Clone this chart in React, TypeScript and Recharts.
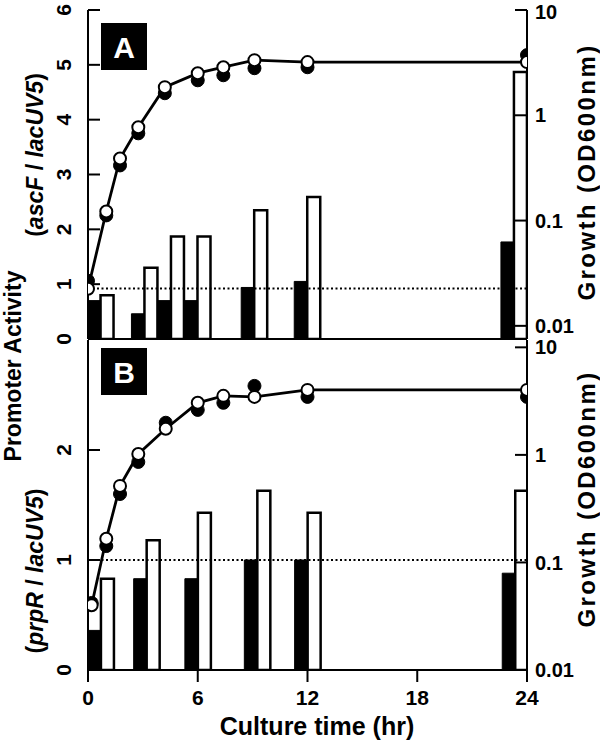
import React from 'react';
import { ComposedChart, Bar, Line, XAxis, YAxis, ReferenceLine } from 'recharts';

// Panel A (ascF / lacUV5)
const barTimesA = [0.7, 3.1, 4.55, 6.0, 9.1, 12.0, 23.3];
const blackA = [0.7, 0.46, 0.7, 0.7, 0.94, 1.05, 1.77];
const whiteA = [0.8, 1.3, 1.87, 1.87, 2.35, 2.59, 4.87];
const growthTimesA = [0, 1, 1.75, 2.75, 4.2, 6, 7.4, 9.1, 12, 24];
const openA = [0.0225, 0.122, 0.389, 0.769, 1.85, 2.51, 2.86, 3.34, 3.2, 3.2];
const filledA = [0.0268, 0.112, 0.334, 0.674, 1.62, 2.15, 2.4, 2.8, 2.86, 3.73];

// Panel B (prpR / lacUV5)
const barTimesB = [0.7, 3.2, 6.0, 9.25, 12.0, 23.35];
const blackB = [0.36, 0.83, 0.83, 1.0, 1.0, 0.88];
const whiteB = [0.83, 1.18, 1.43, 1.63, 1.43, 1.63];
const growthTimesB = [0.2, 1, 1.75, 2.75, 4.25, 6, 7.4, 9.1, 12, 24];
const openB = [0.04, 0.166, 0.515, 1.02, 1.75, 3.05, 3.54, 3.46, 4.02, 4.02];
const filledB = [0.042, 0.142, 0.433, 0.86, 1.99, 2.62, 3.05, 4.38, 3.46, 3.46];

const timeTicks = [0, 6, 12, 18, 24];
const odTicks = [0.01, 0.1, 1, 10];
const activityTicksA = [0, 1, 2, 3, 4, 5, 6];
const activityTicksB = [0, 1, 2];

const barsA = barTimesA.map((t, i) => ({ t, black: blackA[i], white: whiteA[i] }));
const barsB = barTimesB.map((t, i) => ({ t, black: blackB[i], white: whiteB[i] }));
const growthA = growthTimesA.map((t, i) => ({ t, open: openA[i], filled: filledA[i] }));
const growthB = growthTimesB.map((t, i) => ({ t, open: openB[i], filled: filledB[i] }));

const FONT = '"Liberation Sans", Arial, Helvetica, sans-serif';
const axisLine = { stroke: '#000', strokeWidth: 2 };

// left-axis numbers are printed sideways in the figure
const renderSideTick = (props: any) => {
  const { x, y, payload } = props;
  return (
    <g transform={`translate(${x},${y})`}>
      <text
        transform="rotate(-90)"
        textAnchor="middle"
        dy="0.36em"
        fontSize={21}
        fontWeight="bold"
        fontFamily={FONT}
        fill="#000"
      >
        {payload.value}
      </text>
    </g>
  );
};

const Panel = ({ bars, growth, actDomain, actTicks, odDomain, refY, top, height, showTimeLabels }: any) => (
  <div style={{ position: 'absolute', left: 0, top }}>
    <ComposedChart
      width={600}
      height={height}
      data={bars}
      barGap={0}
      margin={{ top: 10, right: 13, left: 47, bottom: showTimeLabels ? 0 : 6 }}
      style={{ fontFamily: FONT }}
    >
      <XAxis
        dataKey="t"
        type="number"
        domain={[0, 24]}
        ticks={timeTicks}
        allowDataOverflow
        height={showTimeLabels ? 70 : 15}
        tickSize={12}
        tickMargin={8}
        axisLine={axisLine}
        tickLine={axisLine}
        tick={showTimeLabels ? { fill: '#000', fontSize: 21, fontWeight: 'bold' } : false}
      />
      <XAxis xAxisId="g" dataKey="t" type="number" domain={[0, 24]} allowDataOverflow hide />
      {!showTimeLabels && (
        <XAxis
          xAxisId="top"
          orientation="top"
          dataKey="t"
          type="number"
          domain={[0, 24]}
          height={0}
          tick={false}
          tickLine={false}
          axisLine={axisLine}
        />
      )}
      <YAxis
        yAxisId="act"
        domain={actDomain}
        ticks={actTicks}
        allowDataOverflow
        width={41}
        tickSize={-12}
        tickMargin={37}
        axisLine={axisLine}
        tickLine={axisLine}
        tick={renderSideTick}
      />
      <YAxis
        yAxisId="gr"
        orientation="right"
        scale="log"
        domain={odDomain}
        ticks={odTicks}
        allowDataOverflow
        width={60}
        tickSize={-12}
        tickMargin={20}
        axisLine={axisLine}
        tickLine={axisLine}
        tick={{ fill: '#000', fontSize: 20, fontWeight: 'bold' }}
      />
      <ReferenceLine yAxisId="act" y={refY} stroke="#000" strokeWidth={2} strokeDasharray="2 2.5" />
      <Bar yAxisId="act" dataKey="black" barSize={13} fill="#000" stroke="#000" strokeWidth={1} isAnimationActive={false} />
      <Bar yAxisId="act" dataKey="white" barSize={13} fill="#fff" stroke="#000" strokeWidth={2.5} isAnimationActive={false} />
      <Line
        xAxisId="g"
        yAxisId="gr"
        data={growth}
        dataKey="filled"
        stroke="none"
        dot={{ r: 6.5, fill: '#000', stroke: '#000', strokeWidth: 1 }}
        activeDot={false}
        isAnimationActive={false}
      />
      <Line
        xAxisId="g"
        yAxisId="gr"
        data={growth}
        dataKey="open"
        stroke="#000"
        strokeWidth={2.8}
        dot={{ r: 6, fill: '#fff', stroke: '#000', strokeWidth: 2 }}
        activeDot={false}
        isAnimationActive={false}
      />
    </ComposedChart>
  </div>
);

const PanelTag = ({ x, y, label }: any) => (
  <g>
    <rect x={x} y={y} width={46} height={47} fill="#000" />
    <text x={x + 23} y={y + 24} textAnchor="middle" dominantBaseline="central" fill="#fff" fontSize={30} fontWeight="bold" fontFamily={FONT}>
      {label}
    </text>
  </g>
);

const ratioLabel = (gene: string, cx: number, cy: number) => (
  <text
    x={cx}
    y={cy}
    transform={`rotate(-90 ${cx} ${cy})`}
    textAnchor="middle"
    dominantBaseline="central"
    fontSize={23}
    fontWeight="bold"
    fontFamily={FONT}
  >
    (<tspan fontStyle="italic">{gene}</tspan> / <tspan fontStyle="italic">lacUV5</tspan>)
  </text>
);

const growthLabel = (cx: number, cy: number) => (
  <text
    x={cx}
    y={cy}
    transform={`rotate(-90 ${cx} ${cy})`}
    textAnchor="middle"
    dominantBaseline="central"
    fontSize={24}
    fontWeight="bold"
    fontFamily={FONT}
    letterSpacing={2.4}
  >
    Growth (OD600nm)
  </text>
);

export default function App() {
  return (
    <div style={{ position: 'absolute', left: 0, top: 0, width: 600, height: 740, background: '#fff' }}>
      <Panel
        bars={barsA}
        growth={growthA}
        actDomain={[0, 6]}
        actTicks={activityTicksA}
        odDomain={[0.0075, 10]}
        refY={0.92}
        top={0}
        height={360}
        showTimeLabels={false}
      />
      <Panel
        bars={barsB}
        growth={growthB}
        actDomain={[0, 3]}
        actTicks={activityTicksB}
        odDomain={[0.01, 11.7]}
        refY={1}
        top={330}
        height={410}
        showTimeLabels
      />
      <svg width={600} height={740} style={{ position: 'absolute', left: 0, top: 0, pointerEvents: 'none' }}>
        <PanelTag x={101} y={23} label="A" />
        <PanelTag x={101} y={348} label="B" />
        <text
          x={13}
          y={366}
          transform="rotate(-90 13 366)"
          textAnchor="middle"
          dominantBaseline="central"
          fontSize={23}
          fontWeight="bold"
          fontFamily={FONT}
        >
          Promoter Activity
        </text>
        {ratioLabel('ascF', 35, 155)}
        {ratioLabel('prpR', 35, 571)}
        {growthLabel(586, 172)}
        {growthLabel(586, 499)}
        <text x={317} y={726} textAnchor="middle" dominantBaseline="central" fontSize={25} fontWeight="bold" fontFamily={FONT}>
          Culture time (hr)
        </text>
      </svg>
    </div>
  );
}
